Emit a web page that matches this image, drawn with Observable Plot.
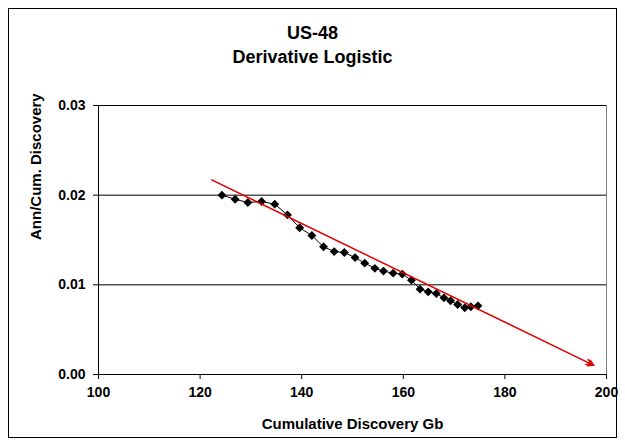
<!DOCTYPE html>
<html><head><meta charset="utf-8">
<script src="https://cdn.jsdelivr.net/npm/d3@7"></script>
<script src="https://cdn.jsdelivr.net/npm/@observablehq/plot@0.6"></script>
<style>
body{margin:0;background:#fff;font-family:"Liberation Sans",Arial,sans-serif;}
#wrap{position:relative;width:625px;height:446px;}
#frame{position:absolute;left:8px;top:8px;width:607px;height:428px;border:1px solid #000;pointer-events:none;}
.t{position:absolute;left:0;width:625px;text-align:center;font-weight:bold;font-size:18px;line-height:21px;color:#000;}
</style></head><body>
<div id="wrap">
<div class="t" style="top:23px">US-48</div>
<div class="t" style="top:47px">Derivative Logistic</div>
<div id="chart"></div>
<div id="frame"></div>
</div>
<script>
const cumDiscovery = [124.3,126.9,129.4,132.1,134.7,137.2,139.6,142.0,144.3,146.4,148.4,150.5,152.4,154.4,156.1,158.0,159.8,161.6,163.3,164.9,166.5,168.0,169.3,170.7,172.1,173.3,174.7];
const annOverCum = [0.0200,0.01955,0.01918,0.01929,0.0190,0.0178,0.01636,0.0155,0.01424,0.01371,0.0136,0.01304,0.01242,0.01184,0.01153,0.0113,0.0112,0.01052,0.00952,0.00922,0.00903,0.00855,0.00822,0.0078,0.00744,0.00755,0.00766];
const fitX = [122.3, 197.3];
const fitY = [0.0217, 0.00108];
const xTicks = [100,120,140,160,180,200];
const yTicks = [0,0.01,0.02,0.03];
const gridY = [0.01,0.02];

const pts = cumDiscovery.map((x,i)=>({x, y: annOverCum[i]}));
const fit = [{x1: fitX[0], y1: fitY[0], x2: fitX[1], y2: fitY[1]}];
const fitEnd = [{x: fitX[1], y: fitY[1]}];

const chart = Plot.plot({
  width: 625, height: 446,
  marginTop: 105, marginBottom: 72, marginLeft: 98, marginRight: 19,
  style: {fontFamily: '"Liberation Sans", Arial, sans-serif', fontSize: "14px", fontWeight: "bold", color: "#000", background: "transparent"},
  x: {domain: [100,200], label: null},
  y: {domain: [0,0.03], label: null},
  marks: [
    Plot.ruleY(gridY, {stroke: "#000", strokeWidth: 1}),
    Plot.ruleX([200], {stroke: "#808080"}),
    Plot.ruleX([100], {stroke: "#000"}),
    Plot.ruleY([0.03], {stroke: "#000"}),
    Plot.ruleY([0], {stroke: "#000"}),
    Plot.axisX({ticks: xTicks, tickFormat: d3.format("d"), tickSize: 5, tickPadding: 8, fontSize: 14, fontWeight: "bold", label: null}),
    Plot.axisY({ticks: yTicks, tickFormat: d3.format(".2f"), tickSize: 5, tickPadding: 8, fontSize: 14, fontWeight: "bold", label: null}),
    Plot.line(pts, {x: "x", y: "y", stroke: "#000", strokeWidth: 1}),
    Plot.dot(pts, {x: "x", y: "y", symbol: "diamond2", r: 4, fill: "#000", stroke: "none"}),
    Plot.arrow(fit, {x1: "x1", y1: "y1", x2: "x2", y2: "y2", stroke: "#e00000", strokeWidth: 1.5, headLength: 7, headAngle: 45}),
    Plot.dot(fitEnd, {x: "x", y: "y", symbol: "triangle", r: 3, rotate: 116, fill: "#e00000", stroke: "none", dx: -2, dy: -1}),
    Plot.text(["Cumulative Discovery Gb"], {frameAnchor: "bottom", dy: 54.5, fontSize: 15, fontWeight: "bold", fill: "#000"}),
    Plot.text(["Ann/Cum. Discovery"], {frameAnchor: "left", dx: -62.5, rotate: -90, fontSize: 15, fontWeight: "bold", fill: "#000"})
  ]
});
d3.select(chart).selectAll('g[aria-label$="tick label"] text').style("font-size","14px").style("font-weight","bold");
document.getElementById("chart").appendChild(chart);
</script>
</body></html>
